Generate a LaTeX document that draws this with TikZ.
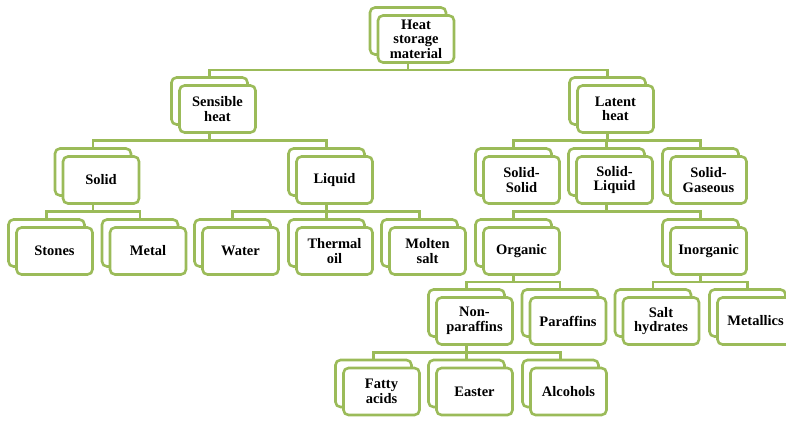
\documentclass[tikz,border=0pt]{standalone}
\usepackage{fontspec}
\setmainfont{Liberation Serif}
\usetikzlibrary{calc,shadows}
\definecolor{hsgreen}{HTML}{9BBB59}

\begin{document}
\begin{tikzpicture}[
  x=1pt, y=-1pt,
  hsbox/.style={rectangle, rounded corners=5pt, draw=hsgreen, line width=2.6pt, fill=white,
    minimum width=76pt, minimum height=47pt, inner sep=1pt, align=center,
    font=\fontsize{14.5}{14.5}\selectfont\bfseries,
    copy shadow={shadow xshift=-8pt, shadow yshift=8pt, draw=hsgreen, fill=white, line width=2.6pt}},
  conn/.style={draw=hsgreen, line width=2.6pt}
]
\useasboundingbox (0,0) rectangle (786,420);

% level 0
\node[hsbox] (heat) at (416,39) {Heat\\storage\\material};

% level 1
\node[hsbox] (sens) at (217.5,109) {Sensible\\heat};
\node[hsbox] (lat)  at (615.5,109) {Latent\\heat};

% level 2
\node[hsbox] (solid)  at (101,180)   {Solid};
\node[hsbox] (liquid) at (334.5,180) {Liquid};
\node[hsbox] (ss)     at (521.5,180) {Solid-\\Solid};
\node[hsbox] (sl)     at (614.5,180) {Solid-\\Liquid};
\node[hsbox] (sg)     at (708.5,180) {Solid-\\Gaseous};

% level 3
\node[hsbox] (stones)  at (54.5,251)  {Stones};
\node[hsbox] (metal)   at (148,251)   {Metal};
\node[hsbox] (water)   at (240.5,251) {Water};
\node[hsbox] (thermal) at (334.5,251) {Thermal\\oil};
\node[hsbox] (molten)  at (427.5,251) {Molten\\salt};
\node[hsbox] (org)     at (521.5,251) {Organic};
\node[hsbox] (inorg)   at (708.5,251) {Inorganic};

% level 4
\node[hsbox] (nonpar) at (474.5,321) {Non-\\paraffins};
\node[hsbox] (par)    at (568,321)   {Paraffins};
\node[hsbox] (salt)   at (661,321)   {Salt\\hydrates};
\node[hsbox] (metals) at (755.5,321) {Metallics};

% level 5
\node[hsbox] (fatty) at (381.5,391.5) {Fatty\\acids};
\node[hsbox] (east)  at (474.5,391.5) {Easter};
\node[hsbox] (alc)   at (568.5,391.5) {Alcohols};

% connectors
\foreach \p/\c in {heat/sens,heat/lat,sens/solid,sens/liquid,lat/ss,lat/sl,lat/sg,
    solid/stones,solid/metal,liquid/water,liquid/thermal,liquid/molten,sl/org,sl/inorg,
    org/nonpar,org/par,inorg/salt,inorg/metals,nonpar/fatty,nonpar/east,nonpar/alc}
  \draw[conn] ([xshift=-8pt]\p.south)
    |- ($([xshift=-8pt]\p.south)!.5!([shift={(-8pt,8pt)}]\c.north)$)
    -| ([shift={(-8pt,8pt)}]\c.north);

\end{tikzpicture}
\end{document}
